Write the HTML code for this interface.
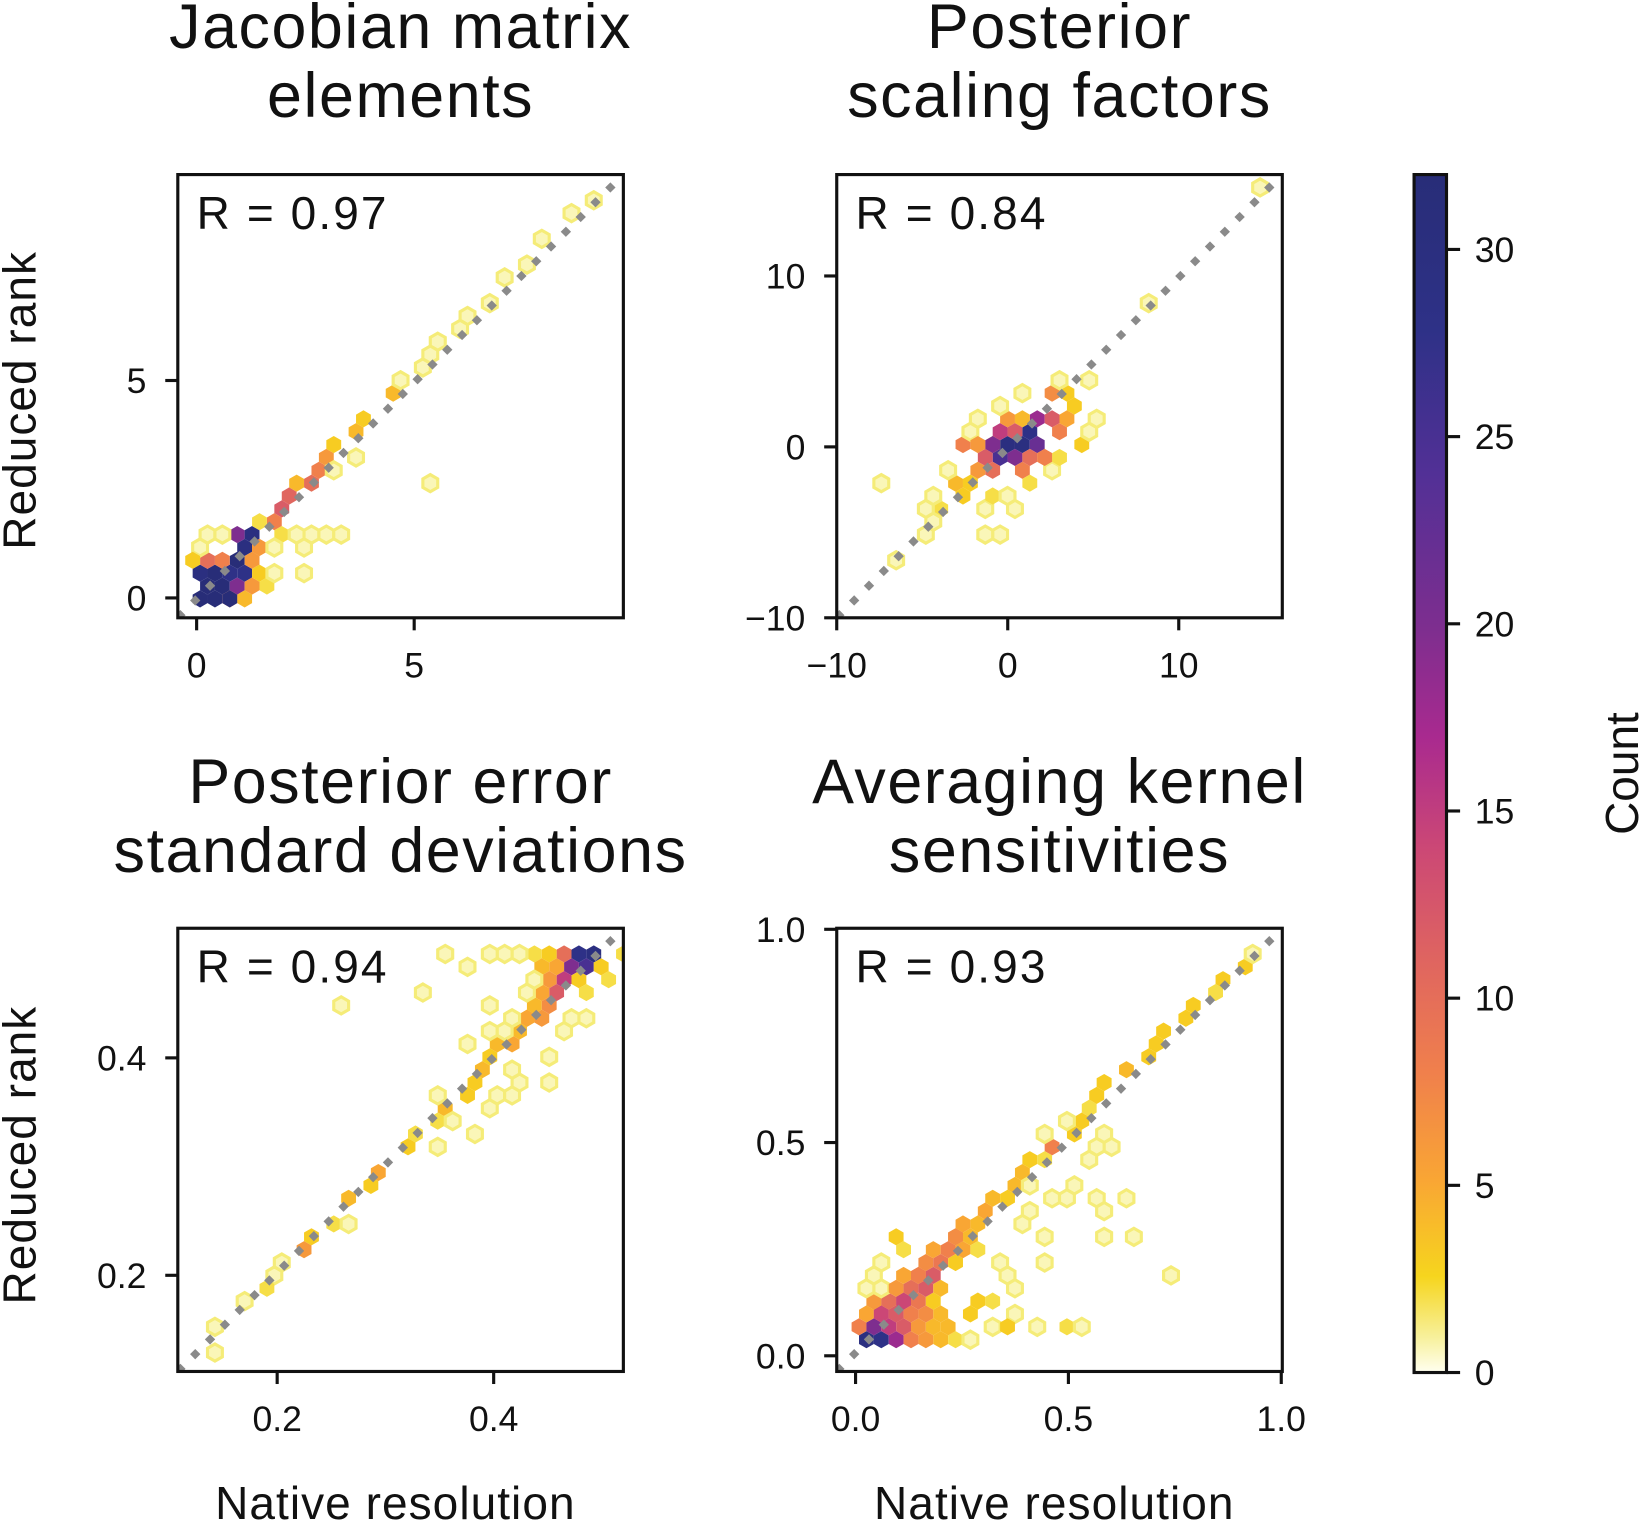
<!DOCTYPE html>
<html><head><meta charset="utf-8"><style>
html,body{margin:0;padding:0;background:#fff;}
svg{display:block;font-family:"Liberation Sans",sans-serif;}
</style></head><body>
<svg id="fig" width="1640" height="1522" viewBox="0 0 1568 1456" preserveAspectRatio="none" xmlns="http://www.w3.org/2000/svg">
<defs>
<linearGradient id="cbg" x1="0" y1="1" x2="0" y2="0">
<stop offset="0" stop-color="#fffff0"/><stop offset="0.03" stop-color="#f7f09a"/><stop offset="0.08" stop-color="#f6d51e"/>
<stop offset="0.16" stop-color="#f9a634"/><stop offset="0.25" stop-color="#f0804c"/><stop offset="0.34" stop-color="#e0665f"/>
<stop offset="0.44" stop-color="#cb4776"/><stop offset="0.53" stop-color="#a92a8f"/><stop offset="0.62" stop-color="#7e2e8f"/>
<stop offset="0.75" stop-color="#523096"/><stop offset="0.87" stop-color="#2e3187"/><stop offset="1" stop-color="#282d78"/>
</linearGradient>
</defs>
</svg>
<script>
// ---- data (x, y, count) per panel ----
const jacobianX=[0.1,0.3,0.5,0.2,0.4,0.6,0.1,0.3,0.5,0.7,0.8,0.9,1.1,0.7,0.8,1.0,1.0,1.2,1.1,1.3,1.4,0.6,0.2,0.4,1.1,1.2,1.4,1.4,1.6,1.6,1.5,1.7,1.9,2.1,2.2,2.4,2.5,2.7,2.8,3.0,3.1,3.3,3.6,3.7,4.0,4.4,4.6,5.1,5.6,6.3,7.1,8.0,1.6,1.8,2.0,2.2,2.4,2.6,2.9,3.4,1.6,1.8,2.6,2.5,5.3,0.0,0.2,0.6,0.9,0.0,1.9,2.3,3.2,3.5,3.9,4.8,5.4,6.0,6.6,7.6,8.5,9.0];
const jacobianY=[0.1,0.1,0.1,0.35,0.35,0.35,0.6,0.6,0.6,0.6,0.35,0.1,0.1,0.1,0.85,0.6,0.85,1.1,1.35,1.35,1.6,0.85,0.85,0.85,0.35,0.6,0.35,0.85,0.6,1.1,1.1,1.85,2.1,2.3,2.45,2.5,2.7,2.9,3.0,3.1,3.3,3.5,3.8,3.9,4.2,4.6,4.8,5.3,5.9,6.6,7.4,8.3,1.85,1.6,1.6,1.6,1.6,1.6,1.6,1.35,0.35,0.6,1.1,0.6,2.6,1.1,1.35,1.35,1.6,0.85,1.1,1.35,3.0,3.2,4.0,5.0,5.6,6.2,6.9,7.8,8.8,9.2];
const jacobianC=[32,32,32,32,32,32,30,32,32,28,20,8,4,32,32,28,32,30,20,30,18,8,10,4,8,8,6,6,3,5,6,8,12,11,8,4,10,8,7,6,4,3,4,3,3,4,2,1,1,1,1,1,2,2,1,1,1,1,1,1,2,1,1,1,1,1,1,1,1,3,1,1,1,1,1,1,1,1,1,1,1,1];

const scalingX=[0,0.7,1.3,-0.7,0.5,1.5,2.0,2.5,2.0,-0.3,-1.5,-1.2,-2.0,-0.5,0.8,1.5,2.8,3.0,3.5,2.2,-2.3,-1.0,0.3,1.2,3.8,4.3,4.0,-3.0,-2.5,-3.5,-4.0,-4.5,-2.0,-1.5,-0.5,1.0,2.2,3.0,4.8,4.5,5.0,-3.5,-7.3,-4.5,-6.8,-5.0,-1.3,-0.5,-1.5,0.3,-1.0,0.0,1.0,2.5,3.0,-2.5,8.1,14.9,-0.8,0.2,1.8,2.6,-1.8];
const scalingY=[0,0.5,1.0,-0.5,-0.3,0.3,1.5,2.0,0.5,0.8,-0.5,-1.2,-1.0,-1.3,-1.0,-0.5,1.0,2.8,1.5,-0.3,0.0,0.5,1.5,2.0,3.3,2.5,0.5,-2.0,-3.0,-3.3,-4.5,-3.5,1.0,2.0,2.3,2.8,3.5,4.2,4.0,1.0,2.0,-1.0,-1.8,-2.5,-6.5,-5.5,-4.0,-5.5,-5.0,-3.5,-2.5,-2.5,-2.0,-1.0,-0.5,-2.0,8.3,15.3,0.1,1.0,-0.8,0.6,0.3];
const scalingC=[30,30,28,25,20,22,18,12,15,15,12,10,6,8,8,10,8,7,5,6,8,4,6,4,3,3,3,4,3,2,1,1,1,1,1,1,2,1,1,1,1,1,1,1,1,1,1,1,1,1,2,1,2,1,2,3,1,1,20,12,8,6,6];

const errorX=[0.49,0.477,0.499,0.483,0.47,0.46,0.446,0.432,0.42,0.408,0.395,0.475,0.488,0.463,0.45,0.468,0.457,0.48,0.462,0.45,0.455,0.443,0.447,0.437,0.44,0.43,0.425,0.418,0.41,0.403,0.395,0.388,0.38,0.373,0.36,0.345,0.33,0.315,0.3,0.28,0.265,0.25,0.235,0.218,0.195,0.185,0.175,0.145,0.14,0.26,0.34,0.35,0.36,0.38,0.38,0.39,0.4,0.41,0.42,0.43,0.44,0.4,0.39,0.37,0.35,0.36,0.38,0.4,0.42,0.43,0.45,0.47,0.49,0.46,0.42,0.52,0.5,0.505,0.48,0.47,0.45,0.35,0.26,0.21];
const errorY=[0.497,0.497,0.497,0.488,0.488,0.497,0.497,0.497,0.497,0.497,0.497,0.478,0.478,0.478,0.488,0.468,0.468,0.468,0.46,0.458,0.455,0.448,0.447,0.438,0.44,0.432,0.425,0.418,0.41,0.4,0.392,0.385,0.378,0.37,0.358,0.345,0.33,0.315,0.3,0.28,0.265,0.25,0.235,0.218,0.195,0.185,0.18,0.15,0.128,0.445,0.46,0.495,0.495,0.48,0.41,0.43,0.45,0.42,0.44,0.46,0.47,0.4,0.35,0.36,0.37,0.34,0.33,0.36,0.36,0.375,0.4,0.42,0.44,0.43,0.39,0.498,0.485,0.475,0.455,0.44,0.38,0.32,0.25,0.21];
const errorC=[30,28,12,25,20,10,3,2,1,1,1,18,6,5,4,15,6,3,12,5,8,4,7,3,6,5,4,5,4,3,4,3,3,3,4,2,2,3,5,3,4,2,3,6,1,2,1,1,1,1,1,1,1,1,1,1,1,1,1,1,1,1,1,1,1,1,1,1,1,1,1,1,1,1,1,2,3,2,2,1,1,1,1,1];

const akX=[0.03,0.05,0.07,0.09,0.11,0.13,0.15,0.17,0.19,0.21,0.23,0.25,0.27,0.02,0.04,0.06,0.08,0.1,0.12,0.14,0.16,0.18,0.2,0.22,0.03,0.05,0.07,0.09,0.11,0.13,0.15,0.17,0.19,0.21,0.04,0.06,0.08,0.1,0.12,0.14,0.16,0.18,0.2,0.05,0.09,0.11,0.13,0.15,0.17,0.19,0.1,0.14,0.16,0.18,0.2,0.17,0.19,0.21,0.23,0.2,0.22,0.24,0.23,0.25,0.27,0.26,0.28,0.3,0.32,0.33,0.35,0.37,0.39,0.41,0.46,0.44,0.5,0.53,0.55,0.58,0.6,0.63,0.65,0.68,0.7,0.73,0.76,0.8,0.83,0.86,0.9,0.92,0.45,0.49,0.52,0.55,0.57,0.3,0.33,0.36,0.38,0.33,0.36,0.31,0.27,0.29,0.35,0.42,0.48,0.54,0.38,0.42,0.45,0.48,0.5,0.52,0.55,0.6,0.62,0.65,0.73,0.58,0.4,0.46,0.43,0.08,0.13,0.07,0.02,0.55,0.6,0.03];
const akY=[0.03,0.03,0.03,0.03,0.03,0.03,0.03,0.03,0.03,0.03,0.03,0.03,0.03,0.06,0.06,0.06,0.06,0.06,0.06,0.06,0.06,0.06,0.06,0.06,0.09,0.09,0.09,0.09,0.09,0.09,0.09,0.09,0.09,0.09,0.12,0.12,0.12,0.12,0.12,0.12,0.12,0.12,0.12,0.15,0.15,0.15,0.15,0.15,0.15,0.15,0.18,0.18,0.18,0.18,0.18,0.21,0.21,0.21,0.21,0.24,0.24,0.24,0.27,0.27,0.27,0.3,0.3,0.33,0.33,0.36,0.36,0.39,0.42,0.45,0.48,0.45,0.52,0.55,0.57,0.6,0.63,0.66,0.68,0.7,0.73,0.76,0.79,0.82,0.85,0.88,0.92,0.94,0.52,0.54,0.52,0.5,0.53,0.26,0.22,0.19,0.16,0.12,0.09,0.06,0.09,0.12,0.06,0.06,0.06,0.06,0.3,0.33,0.36,0.38,0.36,0.4,0.36,0.33,0.38,0.28,0.19,0.28,0.4,0.27,0.22,0.27,0.24,0.21,0.15,0.45,0.5,0.18];
const akC=[30,28,22,18,10,8,6,5,4,3,2,1,1,8,20,16,15,12,8,6,5,4,3,4,5,12,14,10,12,8,7,5,4,3,3,6,10,8,14,9,6,3,2,1,6,5,10,12,5,4,5,6,8,12,4,7,9,6,3,5,8,5,6,7,4,5,4,5,3,4,3,4,4,3,8,2,3,3,2,3,3,4,3,3,3,3,3,3,2,3,3,1,1,1,1,1,1,2,1,1,1,2,1,1,3,3,3,1,2,1,1,1,1,1,1,1,1,1,1,1,1,1,1,1,1,3,2,1,1,1,1,1];

const xTicks1=[0,5], yTicks1=[0,5];
const xTicks2=[-10,0,10], yTicks2=[-10,0,10];
const xTicks3=[0.2,0.4], yTicks3=[0.2,0.4];
const xTicks4=[0,0.5,1.0], yTicks4=[0,0.5,1.0];
const xTickLabels4=['0.0','0.5','1.0'], yTickLabels4=['0.0','0.5','1.0'];
const cbTicks=[0,5,10,15,20,25,30];

const NS='http://www.w3.org/2000/svg';
const svg=document.getElementById('fig');
function el(tag,attrs,parent){const e=document.createElementNS(NS,tag);for(const k in attrs)e.setAttribute(k,attrs[k]);(parent||svg).appendChild(e);return e;}

const stops=[[0,[255,255,240]],[1,[247,240,154]],[2.5,[246,213,30]],[5,[249,166,52]],[8,[240,128,76]],[11,[224,102,95]],[14,[203,71,118]],[17,[169,42,143]],[20,[126,46,143]],[24,[82,48,150]],[28,[46,49,135]],[32,[40,45,120]]];
function cmap(v){for(let i=1;i<stops.length;i++){if(v<=stops[i][0]){const a=stops[i-1],b=stops[i];const t=(v-a[0])/(b[0]-a[0]);return 'rgb('+a[1].map((c,j)=>Math.round(c+(b[1][j]-c)*t)).join(',')+')';}}return 'rgb(40,45,120)';}

function panel(cfg){
  const g=el('g',{});
  
  
  const sx=v=>cfg.px0+(v-cfg.x0)*(cfg.px1-cfg.px0)/(cfg.x1-cfg.x0);
  const sy=v=>cfg.py0+(v-cfg.y0)*(cfg.py1-cfg.py0)/(cfg.y1-cfg.y0);
  const L=170+cfg.ox, R=596+cfg.ox, T=167+cfg.oy, B=591+cfg.oy;
  const cid='clip'+cfg.name;
  const cp=el('clipPath',{id:cid},g);el('rect',{x:L,y:T,width:R-L,height:B-T},cp);
  const hg=el('g',{'clip-path':'url(#'+cid+')'},g);
  const r=8.2, dx=r*Math.sqrt(3), dy=1.5*r;
  const used={};
  const n=Math.min(cfg.X.length,cfg.Y.length,cfg.C.length);
  for(let i=0;i<n;i++){
    let px=sx(cfg.X[i]),py=sy(cfg.Y[i]),c=cfg.C[i];
    let row=Math.round((py-T)/dy); let off=(row%2)?dx/2:0;
    let col=Math.round((px-L-off)/dx);
    const key=row+'_'+col; if(used[key]&&used[key]>=c) continue; used[key]=c;
    const cx=L+off+col*dx, cy=T+row*dy;
    let pts=[];for(let k=0;k<6;k++){const a=Math.PI/3*k+Math.PI/6;pts.push((cx+r*Math.cos(a)).toFixed(1)+','+(cy+r*Math.sin(a)).toFixed(1));}
    const h=el('polygon',{points:pts.join(' ')},hg);
    if(c<=1){h.setAttribute('fill','#faf6b8');h.setAttribute('stroke','#f5ec78');h.setAttribute('stroke-width','3');}
    else h.setAttribute('fill',cmap(c));
    
    
  }
  const dl=el('line',{x1:L,y1:B,x2:R,y2:T,stroke:'#8a8a8a','stroke-width':7,'stroke-dasharray':'7 13','clip-path':'url(#'+cid+')'},g);
  
  
  const fr=el('rect',{x:L,y:T,width:R-L,height:B-T,fill:'none',stroke:'#111','stroke-width':3},g);
  
  
  cfg.xt.forEach((v,i)=>{const x=sx(v);el('line',{x1:x,y1:B,x2:x,y2:B+12,stroke:'#111','stroke-width':3},g);
    const t=el('text',{x:x,y:B+57,'font-size':34,'text-anchor':'middle',fill:'#111'},g);t.textContent=cfg.xl?cfg.xl[i]:fmt(v);
    });
  cfg.yt.forEach((v,i)=>{const y=sy(v);el('line',{x1:L-12,y1:y,x2:L,y2:y,stroke:'#111','stroke-width':3},g);
    const t=el('text',{x:L-30,y:y+12,'font-size':34,'text-anchor':'end',fill:'#111'},g);t.textContent=cfg.yl?cfg.yl[i]:fmt(v);
    });
  const rt=el('text',{x:L+18,y:T+52,'font-size':44,'letter-spacing':2,fill:'#111'},g);rt.textContent=cfg.r;
  
  cfg.title.forEach((s,i)=>{const t=el('text',{x:(L+R)/2,y:cfg.ty+i*66,'font-size':60,'letter-spacing':1.5,'text-anchor':'middle',fill:'#111'},g);t.textContent=s;
    });
}
function fmt(v){return v<0?'\u2212'+(-v):String(v);}

panel({name:'jacobian-panel',ox:0,oy:0,X:jacobianX,Y:jacobianY,C:jacobianC,x0:0,x1:5,px0:188,px1:396,y0:0,y1:5,py0:572,py1:364,xt:xTicks1,yt:yTicks1,r:'R = 0.97',title:['Jacobian matrix','elements'],ty:46});
panel({name:'scaling-panel',ox:630,oy:0,X:scalingX,Y:scalingY,C:scalingC,x0:-10,x1:10,px0:800,px1:1127,y0:-10,y1:10,py0:591,py1:264,xt:xTicks2,yt:yTicks2,r:'R = 0.84',title:['Posterior','scaling factors'],ty:46});
panel({name:'error-panel',ox:0,oy:721,X:errorX,Y:errorY,C:errorC,x0:0.2,x1:0.4,px0:265,px1:472,y0:0.2,y1:0.4,py0:1220,py1:1012,xt:xTicks3,yt:yTicks3,r:'R = 0.94',title:['Posterior error','standard deviations'],ty:768});
panel({name:'kernel-panel',ox:630,oy:721,X:akX,Y:akY,C:akC,x0:0,x1:1,px0:818,px1:1225,y0:0,y1:1,py0:1297,py1:889,xt:xTicks4,yt:yTicks4,xl:xTickLabels4,yl:yTickLabels4,r:'R = 0.93',title:['Averaging kernel','sensitivities'],ty:768});

[[383,'y-axis-title-top'],[1105,'y-axis-title-bottom']].forEach(([cy,n])=>{const t=el('text',{x:0,y:0,'font-size':44,'letter-spacing':1,'text-anchor':'middle',fill:'#111',transform:'translate(34,'+cy+') rotate(-90)'});t.textContent='Reduced rank';
  });
[[378,'x-axis-title-left'],[1008,'x-axis-title-right']].forEach(([cx,n])=>{const t=el('text',{x:cx,y:1453,'font-size':44,'letter-spacing':1,'text-anchor':'middle',fill:'#111'});t.textContent='Native resolution';
  });

// colorbar
const cbT=167,cbB=1313,cbMax=32;
const cy=v=>cbB-(v/cbMax)*(cbB-cbT);
const cb=el('rect',{x:1352,y:cbT,width:31,height:cbB-cbT,fill:'url(#cbg)',stroke:'#111','stroke-width':3});


cbTicks.forEach(v=>{const y=cy(v);el('line',{x1:1383,y1:y,x2:1396,y2:y,stroke:'#111','stroke-width':3});
  const t=el('text',{x:1410,y:y+12,'font-size':34,fill:'#111'});t.textContent=String(v);
  });
const ct=el('text',{x:0,y:0,'font-size':44,'text-anchor':'middle',fill:'#111',transform:'translate(1566,740) rotate(-90)'});ct.textContent='Count';


</script>
</body></html>
